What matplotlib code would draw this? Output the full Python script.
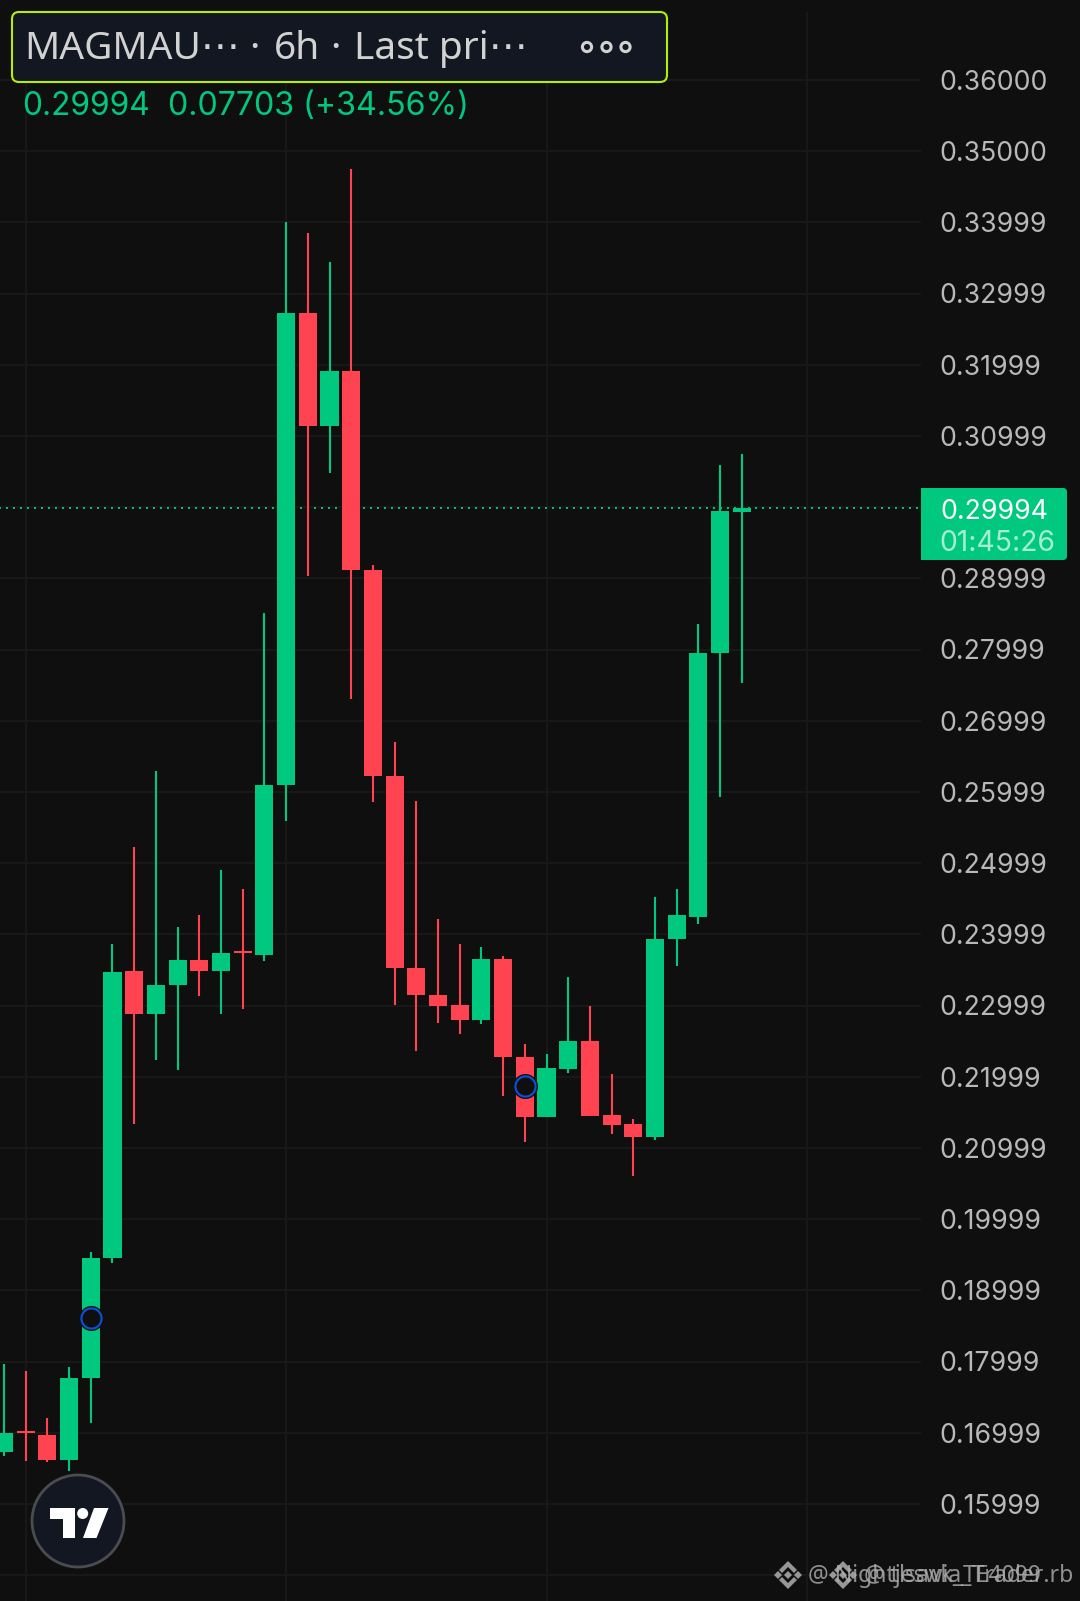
import matplotlib
matplotlib.use('Agg')
import matplotlib.pyplot as plt
from matplotlib.patches import Circle, FancyBboxPatch, Polygon, Rectangle

# candles, left to right
opens = [0.1673, 0.17002, 0.1697, 0.1662, 0.1777, 0.19455, 0.2348, 0.2288, 0.2329, 0.2364,
         0.2348, 0.23752, 0.23707, 0.2610, 0.32725, 0.31147, 0.31907, 0.29112, 0.2623, 0.23535,
         0.23147, 0.23004, 0.22803, 0.23649, 0.22278, 0.21435, 0.2211, 0.22503, 0.21463, 0.21337,
         0.21154, 0.23936, 0.24251, 0.2795, 0.29933]
highs = [0.1797, 0.1787, 0.1721, 0.1792, 0.19546, 0.2387, 0.2523, 0.2629, 0.2411, 0.24266,
         0.24911, 0.24638, 0.28509, 0.34001, 0.33857, 0.33441, 0.34746, 0.29183, 0.26703, 0.25871,
         0.24223, 0.23864, 0.23821, 0.23692, 0.22461, 0.2232, 0.23405, 0.2299, 0.22039, 0.21407,
         0.24524, 0.24638, 0.28366, 0.30593, 0.30747]
lows = [0.1668, 0.1661, 0.1659, 0.1646, 0.1714, 0.1938, 0.2134, 0.2223, 0.2210, 0.23133,
        0.22889, 0.22947, 0.2363, 0.25599, 0.2904, 0.30474, 0.27305, 0.25857, 0.23004, 0.22359,
        0.2276, 0.22603, 0.22746, 0.21728, 0.21084, 0.21435, 0.22053, 0.2145, 0.21197, 0.20607,
        0.21112, 0.23563, 0.24151, 0.25929, 0.27535]
closes = [0.1700, 0.16998, 0.1662, 0.1777, 0.19455, 0.2347, 0.2288, 0.2329, 0.2364, 0.2348,
          0.23735, 0.23745, 0.2610, 0.32725, 0.31147, 0.31907, 0.29112, 0.2623, 0.23535, 0.23147,
          0.2299, 0.22803, 0.23649, 0.22273, 0.21435, 0.22124, 0.22503, 0.2145, 0.21323, 0.21154,
          0.23936, 0.24266, 0.2795, 0.29947, 0.29994]

alert_idx = [4, 24]
alert_price = [0.18612, 0.21871]

grid_prices = [0.15, 0.16, 0.17, 0.18, 0.19, 0.20, 0.21, 0.22, 0.23, 0.24, 0.25, 0.26, 0.27,
               0.28, 0.29, 0.30, 0.31, 0.32, 0.33, 0.34, 0.35, 0.36]
grid_idx = [1, 13, 25, 37]
tick_prices = [0.16, 0.17, 0.18, 0.19, 0.20, 0.21, 0.22, 0.23, 0.24, 0.25, 0.26, 0.27, 0.28,
               0.29, 0.31, 0.32, 0.33, 0.34, 0.35, 0.36]
tick_labels = ['0.15999', '0.16999', '0.17999', '0.18999', '0.19999', '0.20999', '0.21999',
               '0.22999', '0.23999', '0.24999', '0.25999', '0.26999', '0.27999', '0.28999',
               '0.30999', '0.31999', '0.32999', '0.33999', '0.35000', '0.36000']
last_price = 0.29994

BG = '#0f0f0f'
GRID = '#181818'
GREEN = '#00c97f'
RED = '#ff4350'
PANEL = '#131722'
MARK = '#b0b0b0'
NUM_FONT = ['Inter', 'DejaVu Sans']

plt.rcParams['font.family'] = ['Noto Sans', 'DejaVu Sans']


def binance_mark(ui, cx, cy):
    # little diamonds and two chevrons
    shapes = [
        [(cx - 4, cy), (cx, cy - 4), (cx + 4, cy), (cx, cy + 4)],
        [(cx - 14, cy), (cx - 10, cy - 4), (cx - 6, cy), (cx - 10, cy + 4)],
        [(cx + 6, cy), (cx + 10, cy - 4), (cx + 14, cy), (cx + 10, cy + 4)],
        [(cx - 9, cy - 5), (cx, cy - 14), (cx + 9, cy - 5), (cx + 6, cy - 2), (cx, cy - 8), (cx - 6, cy - 2)],
        [(cx - 9, cy + 5), (cx, cy + 14), (cx + 9, cy + 5), (cx + 6, cy + 2), (cx, cy + 8), (cx - 6, cy + 2)],
    ]
    for pts in shapes:
        ui.add_patch(Polygon(pts, fc=MARK, ec='none', alpha=0.85, zorder=9))


fig = plt.figure(figsize=(10.8, 16.01), dpi=100, facecolor=BG)
ax = fig.add_axes([0, 0, 1, 1], facecolor=BG)
ax.set_xlim(-0.1843, 49.585)
ax.set_ylim(0.14638, 0.37124)
ax.axis('off')

ax.hlines(grid_prices, -1, 42.25, color=GRID, lw=1.5, zorder=1)
ax.vlines(grid_idx, 0.1, 0.3696, color=GRID, lw=1.5, zorder=1)
ax.hlines(last_price, -1, 42.25, color=GREEN, lw=1.4, linestyles=(0, (1, 2.6)), zorder=2)

for i in range(len(opens)):
    color = GREEN if closes[i] >= opens[i] else RED
    ax.vlines(i, lows[i], highs[i], color=color, lw=1.5, zorder=3)
    bottom = min(opens[i], closes[i])
    height = max(abs(closes[i] - opens[i]), 0.00022)
    ax.bar(i, height, width=0.83, bottom=bottom, color=color, lw=0, zorder=4)

# alert markers, dark halo under a blue ring
ax.plot(alert_idx, alert_price, 'o', ms=18, color=BG, mew=0, zorder=5)
ax.plot(alert_idx, alert_price, 'o', ms=14.5, mfc=BG, mec='#0a52dc', mew=1.5, zorder=6)

for price, label in zip(tick_prices, tick_labels):
    ax.annotate(label, (43.1, price), xytext=(0, -7), textcoords='offset points', color='#b8b8b8',
                fontsize=19.2, family=NUM_FONT, va='baseline', ha='left', zorder=7)

# pixel layer for the app's overlay
ui = fig.add_axes([0, 0, 1, 1], facecolor='none')
ui.set_xlim(0, 1080)
ui.set_ylim(1601, 0)
ui.axis('off')

# last price tag
ui.add_patch(FancyBboxPatch((925, 491), 139, 66, boxstyle='round,pad=3,rounding_size=4',
                            fc=GREEN, ec='none', zorder=8))
ui.add_patch(Rectangle((921, 488), 10, 72, fc=GREEN, ec='none', zorder=8))
ui.text(994, 519, '0.29994', color='white', fontsize=19.2, family=NUM_FONT, ha='center', va='baseline', zorder=9)
ui.text(997.5, 550.5, '01:45:26', color='#a5ecd2', fontsize=20.4, family=NUM_FONT, ha='center', va='baseline', zorder=9)

# header
ui.add_patch(FancyBboxPatch((18, 18), 643, 58, boxstyle='round,pad=6,rounding_size=7',
                            fc=PANEL, ec='#b2f000', lw=1.5, zorder=8))
ui.text(24, 59, 'MAGMAU\u22ef', color='#d2d2d2', fontsize=28, ha='left', va='baseline', zorder=9)
ui.text(254, 59, '\u00b7', color='#d2d2d2', fontsize=28, ha='center', va='baseline', zorder=9)
ui.text(274, 59, '6h', color='#d2d2d2', fontsize=28, ha='left', va='baseline', zorder=9)
ui.text(335, 59, '\u00b7', color='#d2d2d2', fontsize=28, ha='center', va='baseline', zorder=9)
ui.text(354, 59, 'Last pri\u22ef', color='#d2d2d2', fontsize=28, ha='left', va='baseline', zorder=9)
for cx in [587, 606.5, 625.5]:
    ui.add_patch(Circle((cx, 47), 4.6, fc='none', ec='#d2d2d2', lw=2.2, zorder=9))
ui.text(22, 115, '0.29994', color=GREEN, fontsize=22.8, family=NUM_FONT, ha='left', va='baseline', zorder=9)
ui.text(168, 115, '0.07703 (+34.56%)', color=GREEN, fontsize=23.2, family=NUM_FONT, ha='left', va='baseline', zorder=9)

# logo badge
ui.add_patch(Circle((78, 1521), 46, fc=PANEL, ec='#4b4c50', lw=2, zorder=8))
ui.add_patch(Polygon([(50, 1508), (75, 1508), (75, 1538), (63, 1538), (63, 1519), (50, 1519)],
                     fc='white', ec='none', zorder=9))
ui.add_patch(Circle((82.7, 1513.5), 5.5, fc='white', ec='none', zorder=9))
ui.add_patch(Polygon([(94, 1508), (108.5, 1508), (96.5, 1538), (83, 1538)], fc='white', ec='none', zorder=9))

# overlapping watermarks
binance_mark(ui, 788, 1575)
binance_mark(ui, 843, 1575)
ui.text(808, 1582, '@ Nightjeswia_Trader.rb', color=MARK, alpha=0.8, fontsize=16.5, va='baseline', zorder=9)
ui.text(864, 1582, '@ tlsavk_TE4099', color=MARK, alpha=0.8, fontsize=16.5, va='baseline', zorder=9)

fig.savefig('out.png', dpi=100, facecolor=BG)
